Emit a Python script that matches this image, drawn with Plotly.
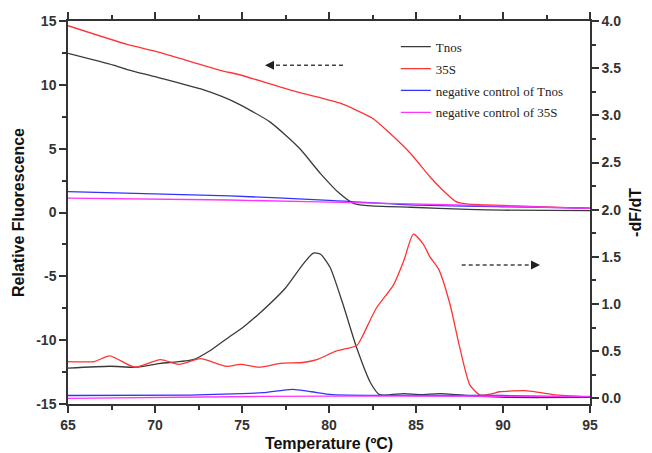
import plotly.graph_objects as go

# ---- data ----
tnos_T = [65, 67.6, 68.4, 70.1, 72.8, 74.5, 76.6, 78.3, 79.5, 80.6, 81.4, 82.2, 84.7, 88, 90, 95]
tnos_F = [12.47, 11.55, 11.2, 10.6, 9.6, 8.7, 7.1, 5.03, 3.07, 1.5, 0.72, 0.54, 0.41, 0.25, 0.18, 0.15]

s35_T = [65, 68.4, 70.1, 73.7, 74.9, 78.1, 80.6, 82.5, 83.5, 84.7, 85.8, 86.5, 87.3, 87.9, 90, 95]
s35_F = [14.63, 13.17, 12.6, 11.16, 10.77, 9.47, 8.58, 7.38, 6.2, 4.6, 2.8, 1.8, 0.85, 0.67, 0.55, 0.33]

negT_T = [65, 74.3, 80, 84.7, 90, 95]
negT_F = [1.63, 1.3, 0.95, 0.6, 0.45, 0.35]

negS_T = [65, 74.3, 84.7, 90, 95]
negS_F = [1.12, 0.98, 0.67, 0.5, 0.33]

tnos_dT = [65, 67.4, 68.9, 70.3, 72.2, 73.2, 74.1, 75.1, 76, 77.5, 78.5, 79.1, 79.5, 80.06, 80.8,
           81.6, 82.4, 82.9, 84.3, 85.3, 86.4, 88.7, 90.2, 95]
tnos_d = [0.32, 0.34, 0.33, 0.37, 0.41, 0.51, 0.63, 0.76, 0.9, 1.17, 1.42, 1.54, 1.53, 1.39, 1.0,
          0.53, 0.16, 0.04, 0.05, 0.04, 0.05, 0.02, 0.01, 0.01]

s35_dT = [65, 66.5, 67.4, 68.85, 70.3, 71.4, 72.6, 74.1, 74.9, 76, 77.2, 78.5, 79.3, 80.4, 81.6,
          81.9, 82.7, 83.7, 84.3, 84.85, 85.4, 85.8, 86.3, 86.95, 87.5, 88.1, 88.7, 89.4, 89.8,
          91.4, 92.9, 95]
s35_d = [0.39, 0.39, 0.45, 0.33, 0.41, 0.36, 0.42, 0.34, 0.36, 0.33, 0.37, 0.38, 0.41, 0.50, 0.56,
         0.65, 0.95, 1.2, 1.46, 1.74, 1.64, 1.50, 1.37, 1.0, 0.55, 0.14, 0.035, 0.05, 0.07,
         0.08, 0.04, 0.015]

negT_dT = [65, 72, 75, 76.2, 77.9, 79, 80.2, 85, 90, 95]
negT_d = [0.03, 0.035, 0.05, 0.06, 0.095, 0.07, 0.04, 0.03, 0.03, 0.01]

negS_dT = [65, 76, 85, 95]
negS_d = [0.0, 0.02, 0.025, 0.02]

y_ticks = [-15, -10, -5, 0, 5, 10, 15]
y_ticktext = ["-15", "-10", "-5", "0", "5", "10", "15"]

names = ["Tnos", "35S", "negative control of Tnos", "negative control of 35S"]
colors = ["#3a3a3a", "#ff3333", "#3333ff", "#ff33ff"]

fig = go.Figure()
fl = [(tnos_T, tnos_F), (s35_T, s35_F), (negT_T, negT_F), (negS_T, negS_F)]
dv = [(tnos_dT, tnos_d), (s35_dT, s35_d), (negT_dT, negT_d), (negS_dT, negS_d)]
for i, (x, y) in enumerate(fl):
    fig.add_trace(go.Scatter(x=x, y=y, mode="lines", name=names[i], legendgroup=str(i),
                             line=dict(color=colors[i], width=1.3, shape="spline", smoothing=0.6)))
for i, (x, y) in enumerate(dv):
    fig.add_trace(go.Scatter(x=x, y=y, mode="lines", name=names[i], legendgroup=str(i), showlegend=False,
                             yaxis="y2",
                             line=dict(color=colors[i], width=1.3, shape="spline", smoothing=0.6)))

axcol = "#333333"
tickfont = dict(family="Liberation Sans, Arial", size=14, color=axcol, weight="bold")
titlefont = dict(family="Liberation Sans, Arial", size=16, color="#111111", weight="bold")

fig.update_layout(
    width=652, height=453,
    margin=dict(l=68, r=62, t=21, b=49),
    paper_bgcolor="white", plot_bgcolor="white",
    showlegend=True,
    legend=dict(x=0.628, y=0.972, xanchor="left", yanchor="top", bgcolor="rgba(0,0,0,0)",
                font=dict(family="Liberation Serif, Times New Roman", size=13, color="#222"),
                traceorder="grouped", tracegroupgap=2),
    xaxis=dict(range=[65, 95], dtick=5, tick0=65, showgrid=False, zeroline=False, automargin=False,
               showline=True, linecolor=axcol, linewidth=1.5, mirror="ticks",
               ticks="outside", ticklen=7, tickwidth=1.5, tickcolor=axcol,
               minor=dict(dtick=2.5, ticks="outside", ticklen=4, tickwidth=1.5, tickcolor=axcol),
               tickfont=tickfont,
               title=dict(text="Temperature (ºC)", font=titlefont, standoff=6)),
    yaxis=dict(range=[-15, 15], tickvals=y_ticks, ticktext=y_ticktext, showgrid=False, zeroline=False,
               automargin=False,
               showline=True, linecolor=axcol, linewidth=1.5,
               ticks="outside", ticklen=7, tickwidth=1.5, tickcolor=axcol,
               minor=dict(dtick=2.5, ticks="outside", ticklen=4, tickwidth=1.5, tickcolor=axcol),
               tickfont=tickfont,
               title=dict(text="Relative Fluorescence", font=titlefont, standoff=8)),
    yaxis2=dict(range=[-0.06, 4.0], dtick=0.5, tick0=0, overlaying="y", side="right",
                showgrid=False, zeroline=False, tickformat=".1f", automargin=False,
                showline=True, linecolor=axcol, linewidth=1.5,
                ticks="outside", ticklen=7, tickwidth=1.5, tickcolor=axcol,
                minor=dict(dtick=0.25, ticks="outside", ticklen=4, tickwidth=1.5, tickcolor=axcol),
                tickfont=tickfont,
                title=dict(text="-dF/dT", font=titlefont, standoff=10)),
)

# dashed arrows indicating which axis each group refers to
arrows = [((0.5268, 0.8843), (0.3774, 0.8843)), ((0.7542, 0.3629), (0.9042, 0.3629))]
for (x0, y0), (x1, y1) in arrows:
    fig.add_shape(type="line", xref="paper", yref="paper", x0=x0, y0=y0,
                  x1=x1 + (0.012 if x1 < x0 else -0.012), y1=y1,
                  line=dict(color="#444", width=1.5, dash="4px,3px"))
    fig.add_annotation(xref="paper", yref="paper", x=x1, y=y1, ax=(8 if x1 < x0 else -8), ay=0,
                       showarrow=True, arrowhead=2, arrowsize=1.2, arrowwidth=1.5,
                       arrowcolor="#222", text="")

fig.write_html("out.html", config={"displayModeBar": False},
               post_script="document.body.style.margin='0';document.body.style.padding='0';")
